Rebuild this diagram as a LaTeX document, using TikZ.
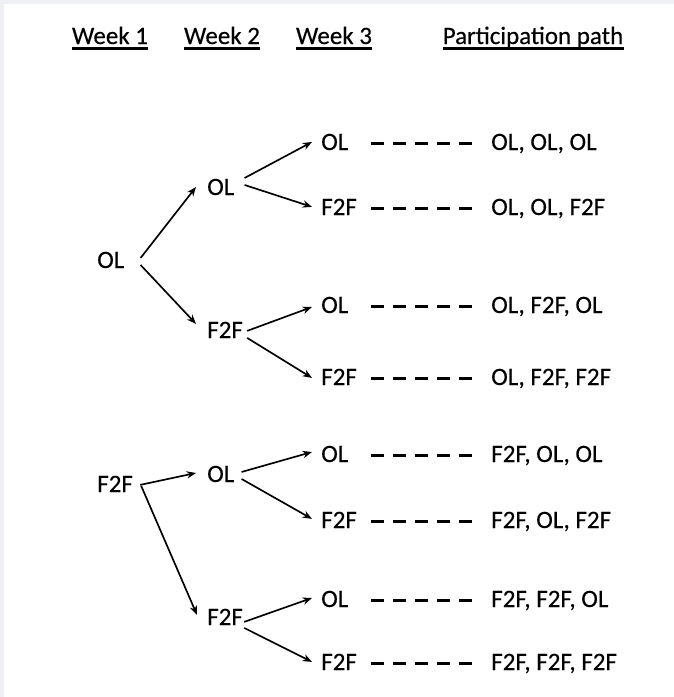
\documentclass[tikz,border=0pt]{standalone}
\usepackage{fontspec}
\setmainfont[FakeBold=0.35]{Carlito}
\usetikzlibrary{arrows.meta}
\definecolor{framegray}{HTML}{EFF0F3}
\begin{document}
\begin{tikzpicture}[x=0.75pt,y=-0.75pt,
  lab/.style={inner sep=0pt,anchor=base west,font=\fontsize{18.75}{22}\selectfont},
  head/.style={inner sep=0pt,anchor=base,font=\fontsize{18.75}{22}\selectfont},
  arr/.style={line width=1.25pt,-{Stealth[length=7pt,width=5.5pt]}},
  dashln/.style={line width=2.4pt,dash pattern=on 9.75pt off 6.75pt},
  uline/.style={line width=1.8pt}]
\useasboundingbox (0,0) rectangle (674,697);
\fill[framegray] (0,0) rectangle (674,697);
\fill[white] (4,4) rectangle (674,697);

% headers
\node[head] (h1) at (110,44) {Week 1};
\node[head] (h2) at (222,44) {Week 2};
\node[head] (h3) at (334,44) {Week 3};
\node[head] (h4) at (533,44) {Participation path};
\foreach \h in {h1,h2,h3,h4}
  \draw[uline] ([yshift=-3.4pt]\h.base west) -- ([yshift=-3.4pt]\h.base east);

% week 1
\node[lab] (n1) at (97,268) {OL};
\node[lab] (n2) at (97,492) {F2F};
% week 2
\node[lab] (a) at (207,195) {OL};
\node[lab] (b) at (207,338) {F2F};
\node[lab] (c) at (207,482) {OL};
\node[lab] (d) at (207,625) {F2F};
% week 3
\node[lab] (r1) at (321,150) {OL};
\node[lab] (r2) at (321,215) {F2F};
\node[lab] (r3) at (321,313) {OL};
\node[lab] (r4) at (321,385) {F2F};
\node[lab] (r5) at (321,462) {OL};
\node[lab] (r6) at (321,528) {F2F};
\node[lab] (r7) at (321,607) {OL};
\node[lab] (r8) at (321,670) {F2F};
% paths
\node[lab] (p1) at (491,150) {OL, OL, OL};
\node[lab] (p2) at (491,215) {OL, OL, F2F};
\node[lab] (p3) at (491,313) {OL, F2F, OL};
\node[lab] (p4) at (491,385) {OL, F2F, F2F};
\node[lab] (p5) at (491,462) {F2F, OL, OL};
\node[lab] (p6) at (491,528) {F2F, OL, F2F};
\node[lab] (p7) at (491,607) {F2F, F2F, OL};
\node[lab] (p8) at (491,670) {F2F, F2F, F2F};

% arrows week1 -> week2
\draw[arr] ([shift={(16,-2)}]n1.east) -- ([shift={(-11,0)}]a.west);
\draw[arr] ([shift={(16,5)}]n1.east) -- ([shift={(-11,-6)}]b.west);
\draw[arr] ([shift={(7,1)}]n2.east) -- ([shift={(-11,-1)}]c.west);
\draw[arr] ([shift={(8,2)}]n2.east) -- ([shift={(-10,-2)}]d.west);
% arrows week2 -> week3
\draw[arr] ([shift={(10,-9)}]a.east) -- ([shift={(-9,0)}]r1.west);
\draw[arr] ([shift={(10,-2)}]a.east) -- ([shift={(-9,0)}]r2.west);
\draw[arr] ([shift={(4,1)}]b.east) -- ([shift={(-9,2)}]r3.west);
\draw[arr] ([shift={(4,8)}]b.east) -- ([shift={(-9,1)}]r4.west);
\draw[arr] ([shift={(7,-2)}]c.east) -- ([shift={(-9,-2)}]r5.west);
\draw[arr] ([shift={(7,5)}]c.east) -- ([shift={(-9,-1)}]r6.west);
\draw[arr] ([shift={(1,5)}]d.east) -- ([shift={(-9,-1)}]r7.west);
\draw[arr] ([shift={(1,11)}]d.east) -- ([shift={(-9,0)}]r8.west);

% dashed connectors
\foreach \i in {1,...,8}
  \draw[dashln] ([xshift=-90pt]p\i.west) -- ([xshift=-14.25pt]p\i.west);
\end{tikzpicture}
\end{document}
